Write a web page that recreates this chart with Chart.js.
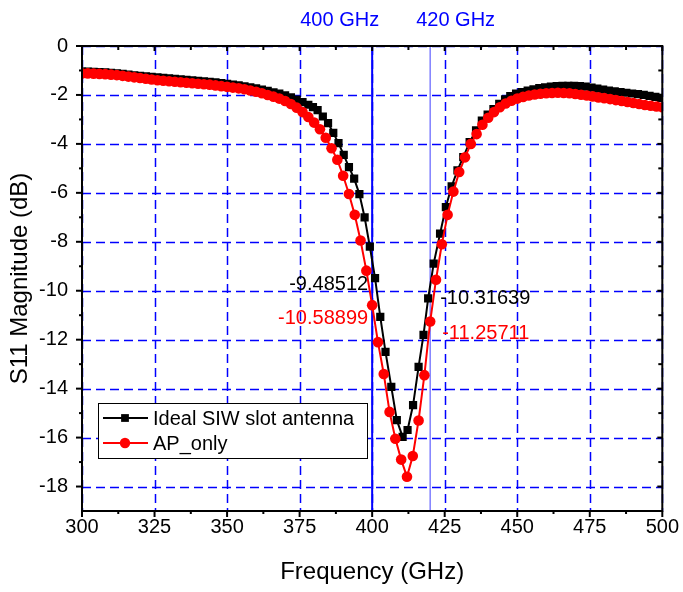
<!DOCTYPE html>
<html>
<head>
<meta charset="utf-8">
<script src="https://cdn.jsdelivr.net/npm/chart.js@4.4.1/dist/chart.umd.min.js"></script>
<style>
  html, body { margin: 0; padding: 0; background: #fff; }
  #c { display: block; }
</style>
</head>
<body>
<canvas id="c" width="683" height="592"></canvas>
<script>
// AP_only (red circles), 2 GHz steps
const freqRed = [300, 302, 304, 306, 308, 310, 312, 314, 316, 318, 320, 322, 324, 326, 328, 330, 332, 334, 336, 338,
  340, 342, 344, 346, 348, 350, 352, 354, 356, 358, 360, 362, 364, 366, 368, 370, 372, 374, 376, 378,
  380, 382, 384, 386, 388, 390, 392, 394, 396, 398, 400, 402, 404, 406, 408, 410, 412, 414, 416, 418,
  420, 422, 424, 426, 428, 430, 432, 434, 436, 438, 440, 442, 444, 446, 448, 450, 452, 454, 456, 458,
  460, 462, 464, 466, 468, 470, 472, 474, 476, 478, 480, 482, 484, 486, 488, 490, 492, 494, 496, 498, 500];
const s11Red = [-1.12, -1.12, -1.13, -1.14, -1.15, -1.17, -1.19, -1.22, -1.25, -1.28, -1.31, -1.34, -1.37, -1.40, -1.42, -1.44, -1.46, -1.48, -1.50, -1.52,
  -1.54, -1.56, -1.58, -1.61, -1.64, -1.67, -1.70, -1.73, -1.77, -1.82, -1.87, -1.93, -2.00, -2.07, -2.15, -2.25, -2.37, -2.52, -2.70, -2.90,
  -3.13, -3.40, -3.75, -4.18, -4.65, -5.30, -6.05, -6.90, -7.95, -9.18, -10.589, -12.10, -13.40, -14.95, -16.05, -16.90, -17.60, -16.75, -15.30, -13.45,
  -11.257, -9.55, -8.10, -6.90, -5.95, -5.15, -4.55, -4.00, -3.60, -3.22, -2.93, -2.70, -2.50, -2.35, -2.24, -2.15, -2.08, -2.02, -1.98, -1.95,
  -1.93, -1.92, -1.91, -1.92, -1.93, -1.96, -1.99, -2.02, -2.06, -2.10, -2.13, -2.17, -2.21, -2.25, -2.29, -2.33, -2.37, -2.41, -2.44, -2.47, -2.50];

// Ideal SIW slot antenna (black squares)
const freqIdeal = [300, 302, 304, 306, 308, 310, 312, 314, 316, 318, 320, 322, 324, 326, 328, 330, 332, 334, 336, 338,
  340, 342, 344, 346, 348, 350, 352, 354, 356, 358, 360, 362, 364, 366, 368, 370, 372, 374, 376, 378,
  379.6, 381.2, 383.0, 384.8, 386.6, 388.4, 390.2, 392.0, 393.8, 395.6, 397.4, 399.2, 401.0, 402.8, 404.6, 406.6, 408.5, 410.5, 412.2, 414.1,
  416.0, 417.7, 419.3, 421.2, 423.4, 425.4, 427.4, 429.4, 431.4, 433.6, 435.8, 437.8, 439.8, 441.8, 443.8, 445.8, 447.6, 449.6, 451.6, 453.6,
  455.6, 457.6, 459.6, 461.6, 463.6, 465.6, 467.6, 469.6, 471.6, 473.6, 475.6, 477.6, 479.6, 481.6, 483.6, 485.6, 487.6, 489.6, 491.6, 493.6,
  495.6, 497.6, 499.6];
const s11Ideal = [-1.05, -1.05, -1.06, -1.07, -1.08, -1.10, -1.12, -1.14, -1.17, -1.20, -1.22, -1.24, -1.26, -1.28, -1.30, -1.32, -1.34, -1.36, -1.38, -1.40,
  -1.42, -1.44, -1.46, -1.49, -1.52, -1.55, -1.58, -1.61, -1.65, -1.69, -1.73, -1.78, -1.83, -1.89, -1.95, -2.02, -2.10, -2.19, -2.29, -2.40,
  -2.50, -2.62, -2.88, -3.15, -3.55, -3.97, -4.45, -4.95, -5.42, -6.05, -7.00, -8.20, -9.485, -11.07, -12.50, -13.93, -15.29, -15.97, -15.69, -14.67,
  -13.11, -11.80, -10.316, -8.89, -7.67, -6.58, -5.73, -5.08, -4.54, -3.93, -3.45, -3.05, -2.80, -2.58, -2.36, -2.18, -2.05, -1.95, -1.88, -1.82,
  -1.77, -1.72, -1.69, -1.66, -1.64, -1.63, -1.63, -1.63, -1.64, -1.66, -1.70, -1.74, -1.78, -1.82, -1.85, -1.88, -1.91, -1.94, -1.97, -2.00,
  -2.04, -2.08, -2.12];

const xTicks = [300, 325, 350, 375, 400, 425, 450, 475, 500];
const xMinor = [312.5, 337.5, 362.5, 387.5, 412.5, 437.5, 462.5, 487.5];
const yTicks = [0, -2, -4, -6, -8, -10, -12, -14, -16, -18];
const yMinor = [-1, -3, -5, -7, -9, -11, -13, -15, -17];

// vertical marker lines and the data cursor readouts
const markerFreq = [400, 420];
const markerText = ['400 GHz', '420 GHz'];
const cursorFreq = [400, 400, 420, 420];
const cursorVal = [-9.48512, -10.58899, -10.31639, -11.25711];
const cursorText = ['-9.48512', '-10.58899', '-10.31639', '-11.25711'];

const FONT = '"Liberation Sans", Arial, sans-serif';

const framePlugin = {
    id: 'frame',
    beforeDatasetsDraw(chart) {
        const { ctx, chartArea: a, scales: { x, y } } = chart;
        ctx.save();
        // dashed blue grid
        ctx.strokeStyle = '#0000ff';
        ctx.lineWidth = 1.5;
        ctx.setLineDash([9, 5]);
        xTicks.forEach(v => {
            const px = Math.round(x.getPixelForValue(v)) + 0.5;
            ctx.beginPath();
            ctx.moveTo(px, a.top);
            ctx.lineTo(px, a.bottom);
            ctx.stroke();
        });
        yTicks.forEach(v => {
            const py = Math.round(y.getPixelForValue(v)) + 0.5;
            ctx.beginPath();
            ctx.moveTo(a.left, py);
            ctx.lineTo(a.right, py);
            ctx.stroke();
        });
        ctx.setLineDash([]);
        // 400 / 420 GHz lines
        const lineColors = ['#0000ff', '#7f7fff'];
        markerFreq.forEach((f, i) => {
            const px = x.getPixelForValue(f);
            ctx.strokeStyle = lineColors[i];
            ctx.lineWidth = i === 0 ? 2 : 1.5;
            ctx.beginPath();
            ctx.moveTo(px, a.top);
            ctx.lineTo(px, a.bottom);
            ctx.stroke();
        });
        ctx.restore();
    },
    afterDatasetsDraw(chart) {
        const { ctx, chartArea: a, scales: { x, y } } = chart;
        ctx.save();
        // box
        ctx.strokeStyle = '#000';
        ctx.lineWidth = 2;
        ctx.strokeRect(a.left, a.top, a.right - a.left, a.bottom - a.top);

        // tick marks: out on bottom/left, in on top/right
        const tick = (x1, y1, x2, y2) => {
            ctx.beginPath();
            ctx.moveTo(x1, y1);
            ctx.lineTo(x2, y2);
            ctx.stroke();
        };
        xTicks.forEach(v => {
            const px = x.getPixelForValue(v);
            tick(px, a.bottom, px, a.bottom + 6);
            tick(px, a.top, px, a.top + 5);
        });
        xMinor.forEach(v => {
            const px = x.getPixelForValue(v);
            tick(px, a.bottom, px, a.bottom + 3);
            tick(px, a.top, px, a.top + 4);
        });
        yTicks.forEach(v => {
            const py = y.getPixelForValue(v);
            tick(a.left - 6, py, a.left, py);
            tick(a.right - 5, py, a.right, py);
        });
        yMinor.forEach(v => {
            const py = y.getPixelForValue(v);
            tick(a.left - 3, py, a.left, py);
            tick(a.right - 4, py, a.right, py);
        });

        // labels above the plot
        ctx.font = '20px ' + FONT;
        ctx.fillStyle = '#0000ff';
        ctx.textBaseline = 'middle';
        ctx.textAlign = 'right';
        ctx.fillText(markerText[0], x.getPixelForValue(markerFreq[0]) + 7, 20);
        ctx.textAlign = 'left';
        ctx.fillText(markerText[1], x.getPixelForValue(markerFreq[1]) - 14, 20);

        // cursor readouts
        const dx = [-4, -4, 10, 12];
        const dy = [6, 13, 0, 12];
        cursorText.forEach((t, i) => {
            ctx.fillStyle = i % 2 === 0 ? '#000' : '#ff0000';
            ctx.textAlign = dx[i] < 0 ? 'right' : 'left';
            ctx.fillText(t, x.getPixelForValue(cursorFreq[i]) + dx[i], y.getPixelForValue(cursorVal[i]) + dy[i]);
        });

        // legend box
        const lx = a.left + 16, ly = a.top + 357, lw = 269, lh = 55;
        ctx.fillStyle = '#fff';
        ctx.fillRect(lx, ly, lw, lh);
        ctx.strokeStyle = '#000';
        ctx.lineWidth = 1;
        ctx.strokeRect(lx + 0.5, ly + 0.5, lw, lh);
        const entries = [
            { text: 'Ideal SIW slot antenna', color: '#000', style: 'rect', r: 5.5 },
            { text: 'AP_only', color: '#ff0000', style: 'circle', r: 5.2 }
        ];
        entries.forEach((e, i) => {
            const cy = ly + 15 + i * 25;
            ctx.strokeStyle = e.color;
            ctx.lineWidth = 2;
            tick(lx + 5, cy, lx + 50, cy);
            ctx.fillStyle = e.color;
            Chart.helpers.drawPoint(ctx, { pointStyle: e.style, radius: e.r, borderWidth: 0 }, lx + 27, cy);
            ctx.fillStyle = '#000';
            ctx.textAlign = 'left';
            ctx.fillText(e.text, lx + 55, cy + 1);
        });
        ctx.restore();
    }
};

new Chart(document.getElementById('c'), {
    type: 'scatter',
    data: {
        datasets: [
            {
                label: 'Ideal SIW slot antenna',
                data: freqIdeal.map((f, i) => ({ x: f, y: s11Ideal[i] })),
                showLine: true,
                borderColor: '#000',
                backgroundColor: '#000',
                borderWidth: 2,
                pointStyle: 'rect',
                pointRadius: 5.8,
                pointBorderWidth: 0,
                clip: 0,
                order: 1
            },
            {
                label: 'AP_only',
                data: freqRed.map((f, i) => ({ x: f, y: s11Red[i] })),
                showLine: true,
                borderColor: '#ff0000',
                backgroundColor: '#ff0000',
                borderWidth: 2,
                pointStyle: 'circle',
                pointRadius: 5.3,
                pointBorderWidth: 0,
                clip: 0,
                order: 0
            }
        ]
    },
    options: {
        responsive: false,
        animation: false,
        devicePixelRatio: 1,
        layout: { padding: { left: 0, right: 20, top: 46, bottom: 0 } },
        plugins: { legend: { display: false }, tooltip: { enabled: false } },
        scales: {
            x: {
                type: 'linear',
                min: 300,
                max: 500,
                afterBuildTicks: s => { s.ticks = xTicks.map(v => ({ value: v })); },
                afterFit: s => { s.height = 81; },
                grid: { display: false, drawTicks: false },
                border: { display: false },
                ticks: { font: { family: FONT, size: 20 }, color: '#000', padding: 4, maxRotation: 0, autoSkip: false },
                title: { display: true, text: 'Frequency (GHz)', color: '#000', font: { family: FONT, size: 24 }, padding: { top: 0, bottom: 5 } }
            },
            y: {
                type: 'linear',
                min: -19,
                max: 0,
                afterBuildTicks: s => { s.ticks = yTicks.map(v => ({ value: v })); },
                afterFit: s => { s.width = 82; },
                grid: { display: false, drawTicks: false },
                border: { display: false },
                ticks: { font: { family: FONT, size: 20 }, color: '#000', padding: 14, autoSkip: false },
                title: { display: true, text: 'S11 Magnitude (dB)', color: '#000', font: { family: FONT, size: 24 }, padding: { top: 6, bottom: 0 } }
            }
        }
    },
    plugins: [framePlugin]
});
</script>
</body>
</html>
